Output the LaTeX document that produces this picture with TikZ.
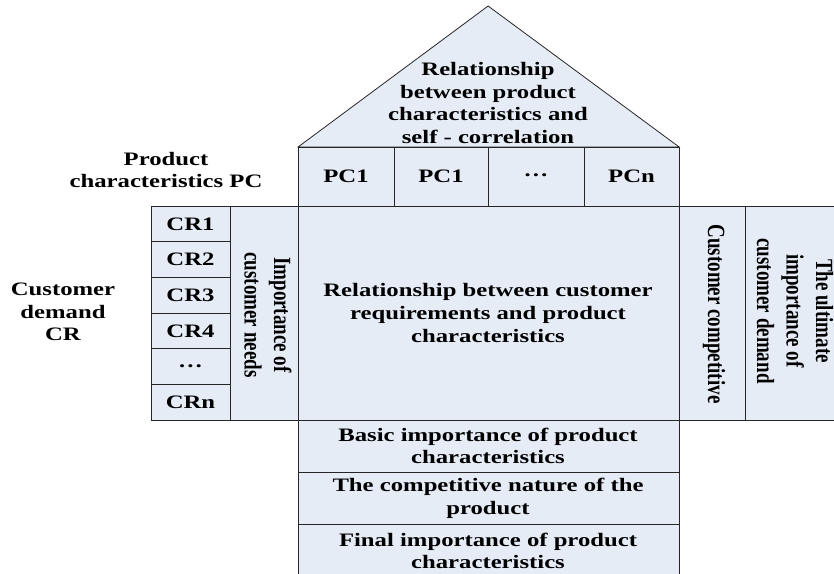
\documentclass[tikz,border=0pt]{standalone}
\usepackage{fontspec}
\setmainfont{Liberation Serif}
\usetikzlibrary{positioning}
\definecolor{houseFill}{RGB}{230,236,246}
\definecolor{lineGray}{gray}{0.15}

\begin{document}
\begin{tikzpicture}[xscale=1.3, x=0.76923pt, y=-1pt,
    every node/.style={transform shape, font=\bfseries\fontsize{19}{22.7}\selectfont, align=center, inner sep=0pt},
    cell/.style={draw=lineGray, fill=houseFill, line width=0.8pt}]
    \useasboundingbox (0,0) rectangle (834,573);

    % roof
    \coordinate (apex) at (488,6);
    \coordinate (roofL) at (298,147);
    \coordinate (roofR) at (679,147);
    \draw[cell] (roofL) -- (apex) -- (roofR) -- cycle;
    \node (roofText) at (488,103) {Relationship\\between product\\characteristics and\\self - correlation};

    % product characteristics
    \foreach \i/\xa/\xb/\lbl in {1/298/394/PC1, 2/394/488/PC1, 3/488/584/{\raisebox{.35ex}{\ldots}}, 4/584/679/PCn} {
        \draw[cell] (\xa,147) rectangle (\xb,206);
        \node (pc\i) at ({(\xa+\xb)/2},176.5) {\lbl};
    }
    \node (pcLabel) at (166,170) {Product\\characteristics PC};

    % customer requirements
    \foreach \i/\lbl in {1/CR1, 2/CR2, 3/CR3, 4/CR4, 5/{\ldots}, 6/CRn} {
        \draw[cell] (151,{206+(\i-1)*35.67}) rectangle (230,{206+\i*35.67});
        \node (cr\i) at (190.5,{206+(\i-0.5)*35.67}) {\lbl};
    }
    \node (crLabel) at (63,312) {Customer\\demand\\CR};

    % importance column and main matrix
    \draw[cell] (230,206) rectangle (298,420);
    \node[rotate=-90] (needText) at (268,315) {Importance of\\customer needs};
    \draw[cell] (298,206) rectangle (679,420);
    \node (mainText) at (488,313) {Relationship between customer\\requirements and product\\characteristics};

    % right columns
    \draw[cell] (679,206) rectangle (745,420);
    \node[rotate=-90] (compText) at (714,314) {Customer competitive};
    \draw[cell] (745,206) rectangle (840,420);
    \node[rotate=-90] (ultText) at (795,311) {The ultimate\\importance of\\customer demand};

    % bottom rows
    \draw[cell] (298,420) rectangle (679,472);
    \node (basicText) at (488,446) {Basic importance of product\\characteristics};
    \draw[cell] (298,472) rectangle (679,524);
    \node (compNature) at (488,498) {The competitive nature of the\\product};
    \draw[cell] (298,524) rectangle (679,580);
    \node (finalText) at (488,551) {Final importance of product\\characteristics};
\end{tikzpicture}
\end{document}
